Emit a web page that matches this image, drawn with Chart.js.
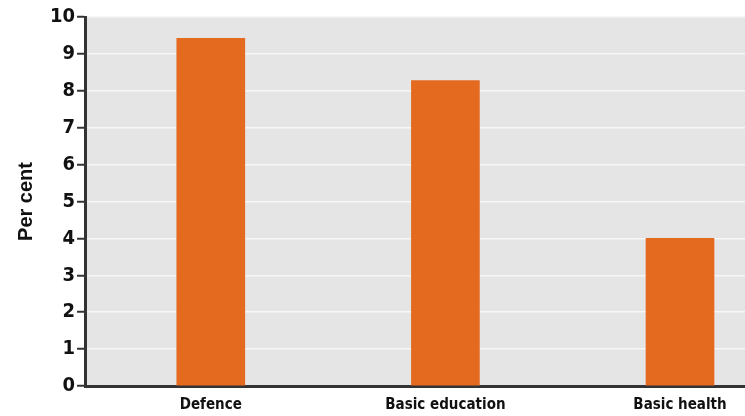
<!DOCTYPE html>
<html><head><meta charset="utf-8">
<script src="https://cdn.jsdelivr.net/npm/chart.js@4/dist/chart.umd.min.js"></script>
<style>html,body{margin:0;padding:0;background:#fff;overflow:hidden}#wrap{width:745px;height:416px}</style>
</head><body><div id="wrap"><canvas id="c" width="745" height="416"></canvas></div>
<script>
const categories = ["Defence", "Basic education", "Basic health"];
const values = [9.42, 8.28, 4.0];
const yTicks = [0,1,2,3,4,5,6,7,8,9,10];
const condensed = "'Liberation Sans Narrow', 'DejaVu Sans Condensed', 'Roboto Condensed', sans-serif";

const bgPlugin = {
  id: 'bg',
  beforeDraw(chart) {
    const {ctx, chartArea: a} = chart;
    ctx.save();
    ctx.fillStyle = '#e5e5e5';
    ctx.fillRect(a.left, a.top, a.right - a.left, a.bottom - a.top);
    ctx.restore();
  }
};

new Chart(document.getElementById('c'), {
  type: 'bar',
  data: {
    datasets: [{
      data: categories.map((c, i) => ({x: i, y: values[i]})),
      backgroundColor: '#e46a20',
      barThickness: 68
    }]
  },
  options: {
    responsive: false,
    animation: false,
    plugins: {legend: {display: false}, tooltip: {enabled: false}},
    layout: {padding: {top: 17, right: 0, left: 14, bottom: 0}},
    scales: {
      x: {
        type: 'linear',
        offset: false,
        min: -0.536,
        max: 2.277,
        afterBuildTicks(scale) { scale.ticks = categories.map((c, i) => ({value: i})); },
        ticks: {
          autoSkip: false,
          maxRotation: 0,
          padding: 2,
          color: '#111',
          font: {family: condensed, weight: 'bold', size: 15},
          callback: (v) => categories[v]
        },
        grid: {display: false},
        border: {display: true, color: '#333', width: 3}
      },
      y: {
        min: 0, max: 10,
        afterBuildTicks(scale) { scale.ticks = yTicks.map(v => ({value: v})); },
        ticks: {
          color: '#111',
          padding: 2,
          font: {family: condensed, weight: 'bold', size: 20}
        },
        grid: {color: '#f7f7f7', lineWidth: 1.5, tickColor: '#333', tickLength: 8, tickWidth: 2},
        border: {display: true, color: '#333', width: 3},
        title: {
          display: true, text: 'Per cent', color: '#111', padding: {top: 0, bottom: 10},
          font: {family: "'Liberation Sans', Arial, sans-serif", weight: 'bold', size: 20}
        }
      }
    }
  },
  plugins: [bgPlugin]
});
</script></body></html>
